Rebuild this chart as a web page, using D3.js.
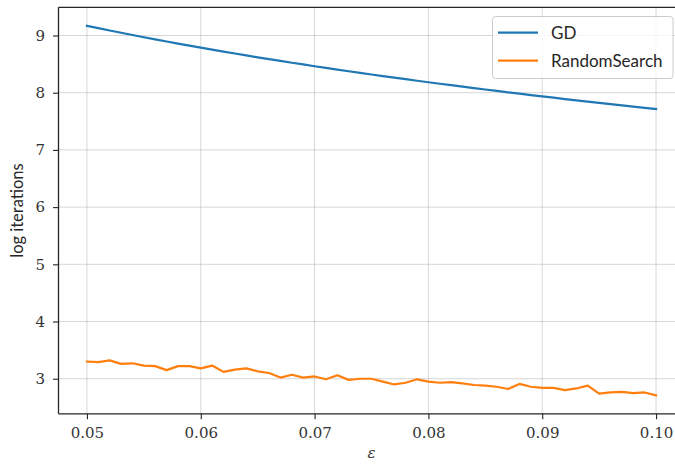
<!DOCTYPE html>
<html>
<head>
<meta charset="utf-8">
<script src="https://cdn.jsdelivr.net/npm/d3@7"></script>
<style>
  html, body { margin: 0; padding: 0; background: #fff; }
  svg { display: block; }
</style>
</head>
<body>
<svg id="chart" width="675" height="464"></svg>
<script>
// epsilon values, 0.050 .. 0.100 in steps of 0.001
const eps = d3.range(51).map(i => +(0.05 + i * 0.001).toFixed(3));

// log iterations for gradient descent
const gdValues = [
  9.170, 9.128, 9.088, 9.048, 9.008, 8.970, 8.932, 8.895, 8.858, 8.822,
  8.787, 8.752, 8.718, 8.685, 8.652, 8.619, 8.587, 8.555, 8.524, 8.494,
  8.463, 8.434, 8.404, 8.375, 8.347, 8.318, 8.291, 8.263, 8.236, 8.209,
  8.183, 8.157, 8.131, 8.106, 8.081, 8.056, 8.031, 8.007, 7.983, 7.959,
  7.936, 7.913, 7.889, 7.867, 7.844, 7.822, 7.800, 7.778, 7.757, 7.735,
  7.714
];

// log iterations for random search
const rsValues = [
  3.30, 3.29, 3.32, 3.26, 3.27, 3.23, 3.22, 3.15, 3.22, 3.22,
  3.18, 3.23, 3.12, 3.16, 3.18, 3.13, 3.10, 3.02, 3.07, 3.02,
  3.04, 2.99, 3.06, 2.98, 3.00, 3.00, 2.95, 2.90, 2.93, 2.99,
  2.95, 2.93, 2.94, 2.92, 2.89, 2.88, 2.86, 2.82, 2.91, 2.86,
  2.84, 2.84, 2.80, 2.83, 2.88, 2.74, 2.76, 2.77, 2.75, 2.76,
  2.71
];

const seriesNames = ["GD", "RandomSearch"];
const seriesColors = ["#1f77b4", "#ff7f0e"];
const xTicks = [0.05, 0.06, 0.07, 0.08, 0.09, 0.10];
const yTicks = [3, 4, 5, 6, 7, 8, 9];

const serifFont = "'DejaVu Serif', serif";
const sansFont = "Lato, 'DejaVu Sans', sans-serif";

const svg = d3.select("#chart");
const plot = { left: 58.5, right: 684.5, top: 7.3, bottom: 413.8 };

// 5% padding around the data extent
function padded(lo, hi) {
  const m = (hi - lo) * 0.05;
  return [lo - m, hi + m];
}
const xDom = padded(d3.min(eps), d3.max(eps));
const allY = gdValues.concat(rsValues);
const yDom = padded(d3.min(allY), d3.max(allY));

const x = d3.scaleLinear().domain(xDom).range([plot.left, plot.right]);
const y = d3.scaleLinear().domain(yDom).range([plot.bottom, plot.top]);

// grid
const grid = svg.append("g");
grid.selectAll("line.vx").data(xTicks).join("line")
  .attr("x1", d => x(d)).attr("x2", d => x(d))
  .attr("y1", plot.top).attr("y2", plot.bottom)
  .attr("stroke", "#b0b0b0").attr("stroke-opacity", 0.5).attr("stroke-width", 1);
grid.selectAll("line.hy").data(yTicks).join("line")
  .attr("y1", d => y(d)).attr("y2", d => y(d))
  .attr("x1", plot.left).attr("x2", plot.right)
  .attr("stroke", "#b0b0b0").attr("stroke-opacity", 0.5).attr("stroke-width", 1);

// series
const series = [gdValues, rsValues];
const line = d3.line().x((d, i) => x(eps[i])).y(d => y(d));
svg.append("g").selectAll("path").data(series).join("path")
  .attr("d", line)
  .attr("fill", "none")
  .attr("stroke", (d, i) => seriesColors[i])
  .attr("stroke-width", 2.2)
  .attr("stroke-linejoin", "round")
  .attr("stroke-linecap", "square");

// axes
const xAxis = d3.axisBottom(x).tickValues(xTicks).tickFormat(d3.format(".2f")).tickSize(5.5).tickPadding(8);
const yAxis = d3.axisLeft(y).tickValues(yTicks).tickFormat(d3.format("d")).tickSize(5.5).tickPadding(8);

const gx = svg.append("g").attr("transform", `translate(0,${plot.bottom})`).call(xAxis);
const gy = svg.append("g").attr("transform", `translate(${plot.left},0)`).call(yAxis);
[gx, gy].forEach(g => {
  g.attr("font-family", serifFont).attr("font-size", 15);
  g.select(".domain").remove();
  g.selectAll(".tick line").attr("stroke", "#262626").attr("stroke-width", 1.1);
  g.selectAll(".tick text").attr("fill", "#333333")
    .style("font-family", serifFont);
});

// spines
const spines = svg.append("g").attr("stroke", "#262626").attr("stroke-width", 1.3).attr("fill", "none");
spines.append("line").attr("x1", plot.left).attr("x2", plot.left).attr("y1", plot.top).attr("y2", plot.bottom);
spines.append("line").attr("x1", plot.left).attr("x2", plot.right).attr("y1", plot.bottom).attr("y2", plot.bottom);
spines.append("line").attr("x1", plot.left).attr("x2", plot.right).attr("y1", plot.top).attr("y2", plot.top);
spines.append("line").attr("x1", plot.right).attr("x2", plot.right).attr("y1", plot.top).attr("y2", plot.bottom);

// axis labels
svg.append("text")
  .style("font-family", serifFont)
  .attr("x", (plot.left + plot.right) / 2).attr("y", 458)
  .attr("text-anchor", "middle")
  .attr("font-style", "italic").attr("font-size", 15)
  .attr("fill", "#333333")
  .text("ε");

svg.append("text")
  .style("font-family", sansFont)
  .attr("transform", `translate(23,${(plot.top + plot.bottom) / 2}) rotate(-90)`)
  .attr("text-anchor", "middle")
  .attr("font-size", 16.5)
  .attr("fill", "#262626")
  .text("log iterations");

// legend
const legend = svg.append("g");
legend.append("rect")
  .attr("x", 492.5).attr("y", 16.5).attr("width", 180.5).attr("height", 62)
  .attr("rx", 3).attr("fill", "#fff").attr("fill-opacity", 0.8)
  .attr("stroke", "#cccccc").attr("stroke-width", 1);
const items = legend.selectAll("g.item").data(seriesNames).join("g")
  .attr("transform", (d, i) => `translate(0,${32.7 + i * 28})`);
items.append("line")
  .attr("x1", 498).attr("x2", 538).attr("y1", 0).attr("y2", 0)
  .attr("stroke", (d, i) => seriesColors[i]).attr("stroke-width", 2.2);
items.append("text")
  .style("font-family", sansFont)
  .attr("x", 551).attr("y", 0).attr("dy", "0.36em")
  .attr("font-size", 17)
  .attr("fill", "#262626")
  .text(d => d);
</script>
</body>
</html>
